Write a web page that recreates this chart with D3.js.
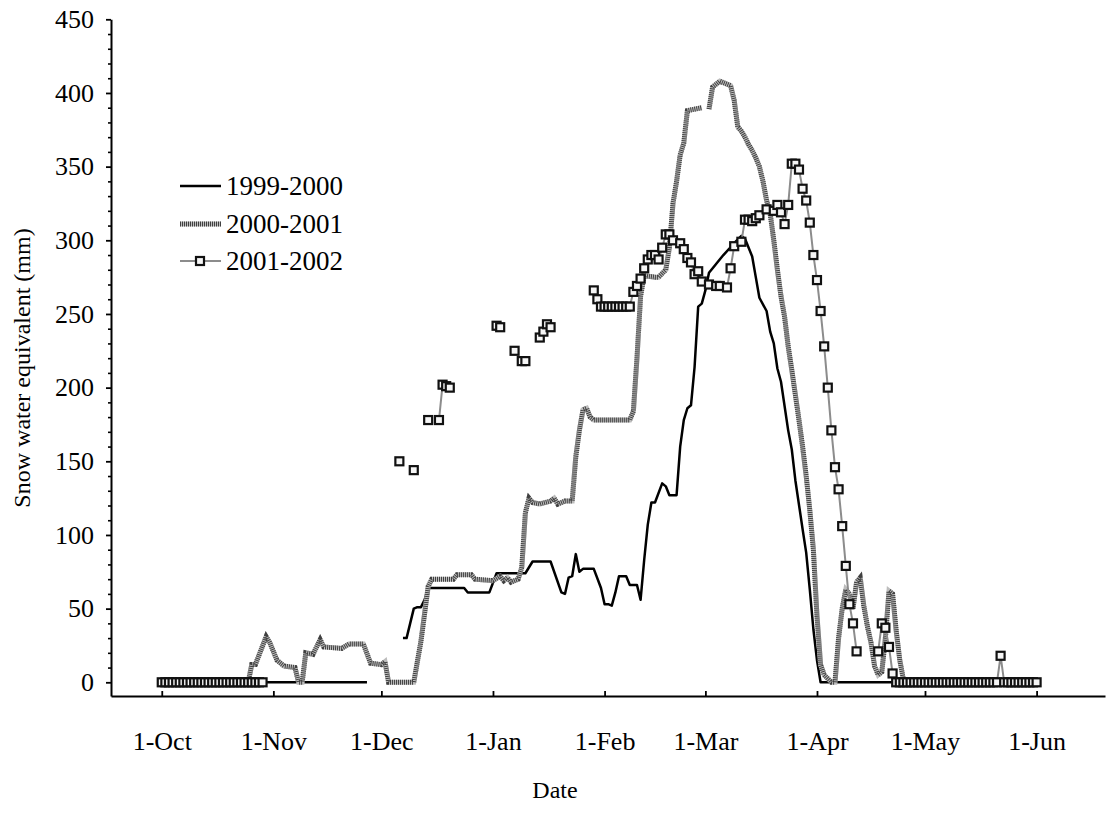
<!DOCTYPE html>
<html>
<head>
<meta charset="utf-8">
<script src="https://cdn.jsdelivr.net/npm/d3@7"></script>
<style>
  body { margin: 0; background: #fff; }
  svg text { font-family: "Liberation Serif", Tinos, "Times New Roman", Times, "DejaVu Serif", serif; fill: #000; }
</style>
</head>
<body>
<div id="chart"></div>
<script>
// Snow water equivalent by season, [days since 1-Oct, mm]
var seasonNames = ["1999-2000", "2000-2001", "2001-2002"];
var monthTicks = ["1-Oct", "1-Nov", "1-Dec", "1-Jan", "1-Feb", "1-Mar", "1-Apr", "1-May", "1-Jun"];
var yTicks = [0, 50, 100, 150, 200, 250, 300, 350, 400, 450];

var swe1999 = [[0,0],[57,0],[60,null],[67,30],[68,30],[69,40],[70,50],[71,51],[72,51],[73,56],[74,64],
  [84,64],[85,61],[91,61],[93,74],[101,74],[103,82],[108,82],[111,61],[112,60],[113,71],[114,72],[115,87],
  [116,75],[117,77],[120,77],[122,64],[123,53],[124,53],[125,52],[126,61],[127,72],[129,72],[130,66],[132,66],
  [133,56],[134,83],[135,107],[136,122],[137,122],[139,135],[140,133],[141,127],[143,127],[144,160],[145,178],
  [146,186],[147,188],[148,214],[149,255],[150,257],[151,266],[152,278],[156,290],[159,298],[161,303],[162,301],
  [164,289],[165,275],[166,261],[168,252],[169,238],[170,230],[171,213],[172,204],[174,171],[175,158],[176,137],
  [178,104],[179,88],[180,63],[181,36],[182,15],[183,0],[243,0]];

var swe2000 = [[0,0],[24,0],[25,12],[26,12],[29,31],[30,27],[32,15],[34,11],[37,10],[38,0],[39,0],[40,20],
  [42,19],[44,29],[45,24],[50,23],[52,26],[56,26],[58,13],[61,12],[62,14],[63,0],[70,0],[72,28],[74,65],[75,70],
  [81,70],[82,73],[86,73],[87,70],[92,69],[94,72],[95,69],[96,71],[97,68],[99,70],[100,78],[101,115],[102,125],
  [103,122],[105,121],[108,123],[109,125],[110,121],[112,123],[114,123],[115,153],[116,171],[117,185],[118,186],
  [119,180],[120,178],[130,178],[131,184],[132,220],[133,262],[134,276],[137,275],[138,275],[140,280],[141,295],
  [142,325],[143,340],[144,358],[145,366],[146,388],[150,390],[151,null],[152,389],[153,404],[155,408],[157,406],
  [158,405],[159,395],[160,377],[161,374],[162,370],[163,365],[164,361],[165,356],[166,350],[167,340],[168,327],
  [169,318],[170,300],[171,280],[172,262],[173,248],[174,228],[175,212],[176,195],[177,178],[178,160],[179,140],
  [180,117],[181,90],[182,45],[183,12],[184,5],[186,0],[187,0],[188,30],[189,50],[190,63],[191,60],[192,50],
  [193,68],[194,71],[195,52],[196,38],[197,27],[198,11],[199,5],[200,7],[201,30],[202,62],[203,60],[204,35],
  [205,15],[206,2],[207,0],[243,0]];

var swe2001 = [[0,0],[1,0],[2,0],[3,0],[4,0],[5,0],[6,0],[7,0],[8,0],[9,0],[10,0],[11,0],[12,0],[13,0],[14,0],
  [15,0],[16,0],[17,0],[18,0],[19,0],[20,0],[21,0],[22,0],[23,0],[24,0],[25,0],[26,0],[27,0],[28,0],[29,null],
  [66,150],[67,null],[70,144],[71,null],[74,178],[75,null],[77,178],[78,202],[79,201],[80,200],[81,null],
  [93,242],[94,241],[95,null],[98,225],[99,null],[100,218],[101,218],[102,null],
  [105,234],[106,238],[107,243],[108,241],[109,null],
  [120,266],[121,260],[122,255],[123,255],[124,255],[125,255],[126,255],[127,255],[128,255],[129,255],[130,255],
  [131,265],[132,269],[133,274],[134,281],[135,287],[136,290],[137,290],[138,287],[139,295],[140,304],[141,304],
  [142,300],[144,298],[145,294],[146,288],[147,285],[148,277],[149,279],[150,272],[152,270],[154,269],[155,269],
  [157,268],[158,281],[159,296],[161,299],[162,314],[163,314],[164,313],[165,315],[166,317],[168,321],[170,320],
  [171,324],[172,319],[173,311],[174,324],[175,352],[176,352],[177,348],[178,335],[179,327],[180,312],[181,290],
  [182,273],[183,252],[184,228],[185,200],[186,171],[187,146],[188,131],[189,106],[190,79],[191,53],[192,40],
  [193,21],[194,null],[199,21],[200,40],[201,37],[202,24],[203,6],[204,0],[205,0],[206,0],[207,0],[208,0],
  [209,0],[210,0],[211,0],[212,0],[213,0],[214,0],[215,0],[216,0],[217,0],[218,0],[219,0],[220,0],[221,0],
  [222,0],[223,0],[224,0],[225,0],[226,0],[227,0],[228,0],[229,0],[230,0],[231,0],[232,0],[233,18],[234,0],
  [235,0],[236,0],[237,0],[238,0],[239,0],[240,0],[241,0],[242,0],[243,0]];

var svgWidth = 1117;
var svgHeight = 833;
var serif = '"Liberation Serif", Tinos, "Times New Roman", Times, "DejaVu Serif", serif';

var svg = d3.select("#chart")
  .append("svg")
  .attr("width", svgWidth)
  .attr("height", svgHeight)
  .attr("font-family", serif);

// season day -> date (1-Oct of an ordinary year)
var startDate = Date.UTC(2001, 9, 1);
function dayToDate(d) {
  return new Date(startDate + d * 864e5);
}

var xScale = d3.scaleUtc()
  .domain([dayToDate(-14.1), dayToDate(262)])
  .range([111, 1105]);

var yScale = d3.scaleLinear()
  .domain([-9.3, 450])
  .range([696, 19.3]);

// minor y ticks every 10
var minorTicks = d3.range(10, 450, 10).filter(v => v % 50 !== 0);
svg.append("g")
  .attr("transform", "translate(111,0)")
  .call(d3.axisLeft(yScale).tickValues(minorTicks).tickSize(3).tickFormat(""))
  .call(g => g.select(".domain").remove())
  .call(g => g.selectAll("line").attr("stroke-width", 1.6));

var yAxis = svg.append("g")
  .attr("transform", "translate(111,0)")
  .call(d3.axisLeft(yScale).tickValues(yTicks).tickSize(5).tickSizeOuter(0).tickPadding(12));
yAxis.attr("font-family", serif).attr("font-size", 26);
yAxis.select(".domain").attr("stroke-width", 2);
yAxis.selectAll("line").attr("stroke-width", 1.8);

var monthDates = d3.utcMonth.range(dayToDate(0), dayToDate(244));
var xAxis = svg.append("g")
  .attr("transform", "translate(0,696)")
  .call(d3.axisBottom(xScale).tickValues(monthDates).tickSizeInner(-5).tickSizeOuter(0)
    .tickPadding(36).tickFormat((d, i) => monthTicks[i]));
xAxis.attr("font-family", serif).attr("font-size", 26);
xAxis.select(".domain").attr("stroke-width", 2);
xAxis.selectAll("line").attr("stroke-width", 1.8);

// axis titles
svg.append("text")
  .attr("transform", "translate(22,368) rotate(-90)")
  .attr("text-anchor", "middle")
  .attr("dy", "0.35em")
  .attr("font-size", 24)
  .text("Snow water equivalent (mm)");

svg.append("text")
  .attr("x", 555)
  .attr("y", 798)
  .attr("text-anchor", "middle")
  .attr("font-size", 24)
  .text("Date");

var line = d3.line()
  .defined(d => d[1] !== null)
  .x(d => xScale(dayToDate(d[0])))
  .y(d => yScale(d[1]));

// 1999-2000 solid black
svg.append("path")
  .datum(swe1999)
  .attr("fill", "none")
  .attr("stroke", "#000")
  .attr("stroke-width", 2.5)
  .attr("stroke-linejoin", "round")
  .attr("d", line);

// 2000-2001 thick striped grey
svg.append("path")
  .datum(swe2000)
  .attr("fill", "none")
  .attr("stroke", "#bdbdbd")
  .attr("stroke-width", 5)
  .attr("d", line);
svg.append("path")
  .datum(swe2000)
  .attr("fill", "none")
  .attr("stroke", "#404040")
  .attr("stroke-width", 5)
  .attr("stroke-dasharray", "1,1")
  .attr("d", line);

// 2001-2002 grey line with square markers
svg.append("path")
  .datum(swe2001)
  .attr("fill", "none")
  .attr("stroke", "#8c8c8c")
  .attr("stroke-width", 2)
  .attr("d", line);

svg.append("g")
  .selectAll("rect")
  .data(swe2001.filter(d => d[1] !== null))
  .enter()
  .append("rect")
  .attr("x", d => xScale(dayToDate(d[0])) - 4)
  .attr("y", d => yScale(d[1]) - 4)
  .attr("width", 8)
  .attr("height", 8)
  .attr("fill", "#f6f6f6")
  .attr("stroke", "#111")
  .attr("stroke-width", 2.2);

// legend
var legend = svg.append("g");
var legendY = [186, 224, 261];
seasonNames.forEach(function(name, i) {
  var yy = legendY[i];
  if (i === 0) {
    legend.append("line").attr("x1", 180).attr("x2", 221).attr("y1", yy).attr("y2", yy)
      .attr("stroke", "#000").attr("stroke-width", 2.5);
  } else if (i === 1) {
    legend.append("line").attr("x1", 180).attr("x2", 221).attr("y1", yy).attr("y2", yy)
      .attr("stroke", "#bdbdbd").attr("stroke-width", 5);
    legend.append("line").attr("x1", 180).attr("x2", 221).attr("y1", yy).attr("y2", yy)
      .attr("stroke", "#404040").attr("stroke-width", 5).attr("stroke-dasharray", "1,1");
  } else {
    legend.append("line").attr("x1", 180).attr("x2", 221).attr("y1", yy).attr("y2", yy)
      .attr("stroke", "#8c8c8c").attr("stroke-width", 2);
    legend.append("rect").attr("x", 196).attr("y", yy - 4).attr("width", 8).attr("height", 8)
      .attr("fill", "#f6f6f6").attr("stroke", "#111").attr("stroke-width", 2.2);
  }
  legend.append("text")
    .attr("x", 226)
    .attr("y", yy)
    .attr("dy", "0.35em")
    .attr("font-size", 27)
    .text(name);
});
</script>
</body>
</html>
